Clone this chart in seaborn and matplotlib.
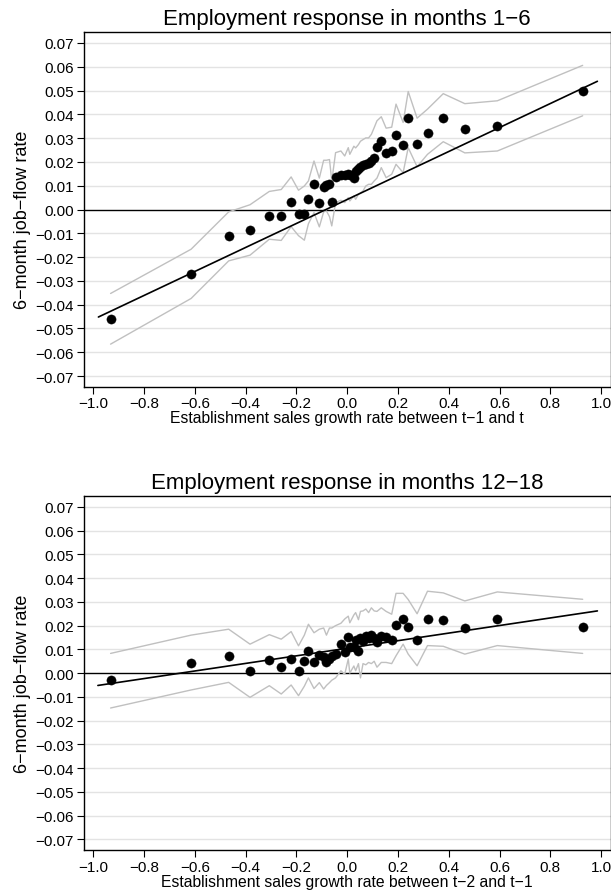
import numpy as np
import pandas as pd
import matplotlib
matplotlib.use("Agg")
import matplotlib.pyplot as plt
import seaborn as sns
from matplotlib.ticker import FuncFormatter

# ---- data ----
bin_x = [-0.932, -0.615, -0.467, -0.383, -0.307, -0.260, -0.221, -0.192, -0.169, -0.153,
         -0.131, -0.110, -0.093, -0.082, -0.070, -0.061, -0.046, -0.025, -0.010, 0.004,
         0.010, 0.026, 0.033, 0.044, 0.052, 0.062, 0.073, 0.084, 0.095, 0.106,
         0.117, 0.134, 0.153, 0.175, 0.192, 0.220, 0.240, 0.275, 0.316, 0.378,
         0.463, 0.591, 0.927]

top_y = [-0.0459, -0.0272, -0.0113, -0.0088, -0.0027, -0.0027, 0.0032, -0.0017, -0.0017, 0.0043,
         0.0108, 0.0027, 0.0095, 0.0102, 0.0107, 0.0033, 0.0137, 0.0147, 0.0145, 0.0151,
         0.0147, 0.0134, 0.0160, 0.0170, 0.0180, 0.0186, 0.0193, 0.0197, 0.0204, 0.0216,
         0.0263, 0.0286, 0.0237, 0.0246, 0.0313, 0.0270, 0.0386, 0.0277, 0.0321, 0.0386,
         0.0340, 0.0352, 0.0500]
top_hi = [-0.0353, -0.0167, -0.0010, 0.0020, 0.0076, 0.0084, 0.0137, 0.0081, 0.0099, 0.0120,
          0.0204, 0.0132, 0.0207, 0.0207, 0.0210, 0.0120, 0.0239, 0.0246, 0.0225, 0.0260,
          0.0232, 0.0266, 0.0259, 0.0273, 0.0287, 0.0294, 0.0301, 0.0301, 0.0316, 0.0344,
          0.0373, 0.0390, 0.0342, 0.0346, 0.0443, 0.0366, 0.0496, 0.0384, 0.0422, 0.0487,
          0.0445, 0.0457, 0.0606]
top_lo = [-0.0566, -0.0374, -0.0216, -0.0192, -0.0125, -0.0130, -0.0072, -0.0110, -0.0129, -0.0060,
          -0.0013, -0.0073, -0.0010, -0.0006, -0.0030, -0.0069, 0.0029, 0.0039, 0.0029, 0.0050,
          0.0036, 0.0057, 0.0043, 0.0064, 0.0070, 0.0078, 0.0099, 0.0106, 0.0106, 0.0120,
          0.0132, 0.0176, 0.0134, 0.0148, 0.0190, 0.0155, 0.0260, 0.0180, 0.0232, 0.0285,
          0.0238, 0.0246, 0.0394]
top_fit_x = [-0.980, 0.985]
top_fit_y = [-0.0452, 0.0539]

bot_y = [-0.0031, 0.0042, 0.0073, 0.0010, 0.0055, 0.0026, 0.0060, 0.0008, 0.0050, 0.0092,
         0.0046, 0.0078, 0.0066, 0.0048, 0.0058, 0.0070, 0.0082, 0.0122, 0.0088, 0.0153,
         0.0108, 0.0112, 0.0140, 0.0094, 0.0146, 0.0135, 0.0155, 0.0148, 0.0162, 0.0150,
         0.0130, 0.0157, 0.0154, 0.0140, 0.0201, 0.0230, 0.0195, 0.0141, 0.0230, 0.0225,
         0.0192, 0.0228, 0.0196]
bot_hi = [0.0083, 0.0160, 0.0185, 0.0122, 0.0162, 0.0143, 0.0175, 0.0115, 0.0160, 0.0206,
          0.0170, 0.0185, 0.0190, 0.0160, 0.0190, 0.0190, 0.0200, 0.0210, 0.0228, 0.0240,
          0.0212, 0.0245, 0.0255, 0.0225, 0.0260, 0.0262, 0.0270, 0.0255, 0.0275, 0.0262,
          0.0260, 0.0275, 0.0260, 0.0248, 0.0336, 0.0336, 0.0310, 0.0250, 0.0345, 0.0338,
          0.0304, 0.0342, 0.0311]
bot_lo = [-0.0147, -0.0071, -0.0039, -0.0102, -0.0053, -0.0088, -0.0050, -0.0095, -0.0055, -0.0020,
          -0.0065, -0.0040, -0.0067, -0.0052, -0.0040, -0.0030, -0.0020, 0.0010, -0.0005, 0.0060,
          0.0000, 0.0030, 0.0010, 0.0040, -0.0020, 0.0040, 0.0035, 0.0045, 0.0040, 0.0050,
          0.0025, 0.0045, 0.0045, 0.0040, 0.0073, 0.0122, 0.0080, 0.0031, 0.0116, 0.0113,
          0.0080, 0.0116, 0.0083]
bot_fit_x = [-0.982, 0.985]
bot_fit_y = [-0.0052, 0.0262]

titles = ["Employment response in months 1\u22126", "Employment response in months 12\u221218"]
xlabels = ["Establishment sales growth rate between t\u22121 and t",
           "Establishment sales growth rate between t\u22122 and t\u22121"]
ylabel = "6\u2212month job\u2212flow rate"
x_ticks = [-1.0, -0.8, -0.6, -0.4, -0.2, 0.0, 0.2, 0.4, 0.6, 0.8, 1.0]
y_ticks = [-0.07, -0.06, -0.05, -0.04, -0.03, -0.02, -0.01, 0.0, 0.01, 0.02, 0.03, 0.04, 0.05, 0.06, 0.07]

# ---- style ----
sns.set_theme(style="white")
plt.rcParams['font.family'] = ['Liberation Sans', 'DejaVu Sans']
plt.rcParams['axes.unicode_minus'] = True

fig = plt.figure(figsize=(6.11, 8.95), dpi=100)
positions = [[0.1367, 0.5668, 0.8633, 0.3960], [0.1367, 0.0492, 0.8633, 0.3952]]

panels = [
    (top_y, top_hi, top_lo, top_fit_x, top_fit_y),
    (bot_y, bot_hi, bot_lo, bot_fit_x, bot_fit_y),
]

def fmt(dec):
    def f(v, pos):
        s = f"{v:.{dec}f}"
        if s.startswith("-"):
            if float(s) == 0:
                s = s[1:]
            else:
                s = "\u2212" + s[1:]
        return s
    return FuncFormatter(f)

for i, (yv, hi, lo, fx, fy) in enumerate(panels):
    ax = fig.add_axes(positions[i])
    df = pd.DataFrame({"x": bin_x, "y": yv, "hi": hi, "lo": lo})
    fit = pd.DataFrame({"x": fx, "y": fy})
    for yt in y_ticks:
        if abs(yt) > 1e-9:
            ax.axhline(yt, color="#e3e3e3", lw=1.0, zorder=0)
    ax.axhline(0, color="black", lw=1.0, zorder=1)
    sns.lineplot(data=df, x="x", y="hi", ax=ax, color="#c0c0c0", lw=1.0,
                 estimator=None, sort=False, zorder=2)
    sns.lineplot(data=df, x="x", y="lo", ax=ax, color="#c0c0c0", lw=1.0,
                 estimator=None, sort=False, zorder=2)
    sns.lineplot(data=fit, x="x", y="y", ax=ax, color="black", lw=1.2,
                 estimator=None, sort=False, zorder=3)
    sns.scatterplot(data=df, x="x", y="y", ax=ax, color="black", s=44,
                    edgecolor="black", linewidth=0.3, zorder=4)
    ax.set_xlim(-1.0386, 1.0386)
    ax.set_ylim(-0.0745, 0.0745)
    ax.set_xticks(x_ticks)
    ax.set_yticks(y_ticks)
    ax.xaxis.set_major_formatter(fmt(1))
    ax.yaxis.set_major_formatter(fmt(2))
    ax.tick_params(axis="both", which="major", direction="out", length=5, width=0.8,
                   color="black", labelsize=11, pad=2, bottom=True, left=True,
                   labelcolor="black")
    for sp in ax.spines.values():
        sp.set_visible(True)
        sp.set_color("black")
        sp.set_linewidth(1.0)
    ax.set_title(titles[i], fontsize=16, color="black", pad=6)
    ax.set_xlabel(xlabels[i], fontsize=11.3, color="black", labelpad=0)
    ax.set_ylabel(ylabel, fontsize=13, color="black")
    ax.yaxis.set_label_coords(-0.10, 0.473)
    ax.grid(False)

fig.savefig("out.png", dpi=100)
